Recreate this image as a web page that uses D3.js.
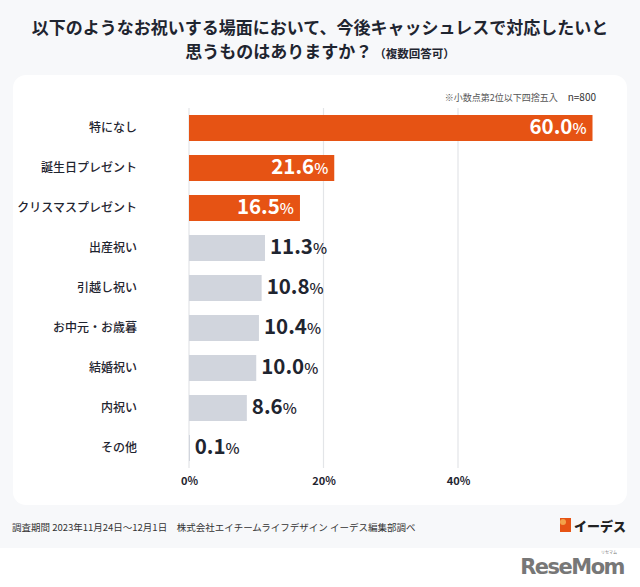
<!DOCTYPE html>
<html><head><meta charset="utf-8">
<script src="https://cdn.jsdelivr.net/npm/d3@7"></script>
<style>
html,body{margin:0;padding:0;background:#fff;}
svg{display:block;font-family:"Noto Sans CJK JP","Noto Sans",sans-serif;}
</style></head>
<body>
<svg id="c" width="640" height="587"></svg>
<script>
const categories = ["特になし","誕生日プレゼント","クリスマスプレゼント","出産祝い","引越し祝い","お中元・お歳暮","結婚祝い","内祝い","その他"];
const values = [60.0, 21.6, 16.5, 11.3, 10.8, 10.4, 10.0, 8.6, 0.1];
const highlighted = [true, true, true, false, false, false, false, false, false];
const tickValues = [0, 20, 40];

const svg = d3.select("#c");
// background
svg.append("rect").attr("x",0).attr("y",0).attr("width",640).attr("height",548).attr("fill","#f7f8fa");
// card
svg.append("rect").attr("x",13).attr("y",75).attr("width",614).attr("height",430).attr("rx",13).attr("fill","#ffffff");

// title
svg.append("text").attr("x",320).attr("y",34).attr("text-anchor","middle").attr("fill","#1f2530")
  .attr("font-weight","700").attr("font-size",17)
  .text("以下のようなお祝いする場面において、今後キャッシュレスで対応したいと");
const t2 = svg.append("text").attr("x",320).attr("y",58).attr("text-anchor","middle").attr("fill","#1f2530").attr("font-weight","700");
t2.append("tspan").attr("font-size",17).text("思うものはありますか？");
t2.append("tspan").attr("font-size",11.5).attr("dx",2).text("（複数回答可）");

// note
const note = svg.append("text").attr("x",596).attr("y",101).attr("text-anchor","end").attr("fill","#333");
note.append("tspan").attr("font-size",9).attr("fill","#555").text("※小数点第2位以下四捨五入");
note.append("tspan").attr("font-size",10).attr("dx",10).text("n=800");

const x = d3.scaleLinear().domain([0,60]).range([189,592.5]);
const y = d3.scaleBand().domain(categories).range([108,468]).paddingInner(0.35).paddingOuter(0.175);

// gridlines
svg.append("g").selectAll("line").data(tickValues).join("line")
  .attr("x1",d=>x(d)).attr("x2",d=>x(d)).attr("y1",108).attr("y2",468)
  .attr("stroke","#e3e5e8").attr("stroke-width",1.2);

// axis tick labels
const axis = d3.axisBottom(x).tickValues(tickValues).tickFormat(d=>d+"%").tickSize(0);
const ag = svg.append("g").attr("transform","translate(0,474)").call(axis);
ag.select(".domain").remove();
ag.selectAll("text").attr("font-size",11).attr("font-weight","700").attr("fill","#1f2530")
  .attr("font-family","\"Noto Sans CJK JP\",sans-serif");

// category labels
svg.append("g").selectAll("text").data(categories).join("text")
  .attr("x",137).attr("y",d=>y(d)+y.bandwidth()/2).attr("dy","0.35em")
  .attr("text-anchor","end").attr("font-size",12).attr("font-weight","500").attr("fill","#1f2530")
  .text(d=>d);

// bars
const rows = categories.map((c,i)=>({c, v:values[i], h:highlighted[i]}));
svg.append("g").selectAll("rect").data(rows).join("rect")
  .attr("x",x(0)).attr("y",d=>y(d.c)).attr("width",d=>Math.max(1,x(d.v)-x(0))).attr("height",y.bandwidth())
  .attr("fill",d=>d.h?"#e65314":"#d1d5dd");

// value labels
const vl = svg.append("g").selectAll("text").data(rows).join("text")
  .attr("x",d=>d.h ? x(d.v)-6 : x(d.v)+5)
  .attr("y",d=>y(d.c)+y.bandwidth()/2).attr("dy","0.37em")
  .attr("text-anchor",d=>d.h?"end":"start")
  .attr("fill",d=>d.h?"#ffffff":"#1f2530")
  .attr("font-weight","700");
vl.append("tspan").attr("font-size",20.5).text(d=>d.v.toFixed(1));
vl.append("tspan").attr("font-size",15).attr("font-weight","500").text("%");

// footer
svg.append("text").attr("x",12).attr("y",531).attr("font-size",9.5).attr("fill","#333")
  .text("調査期間 2023年11月24日〜12月1日　株式会社エイチームライフデザイン イーデス編集部調べ");
// brand mark
const bm = svg.append("g").attr("transform","translate(560,518)");
bm.append("rect").attr("x",0).attr("y",0).attr("width",11).attr("height",14).attr("fill","#e65314");
bm.append("circle").attr("cx",3).attr("cy",4).attr("r",3).attr("fill","#f2a24a");
svg.append("text").attr("x",574).attr("y",531).attr("font-size",13).attr("font-weight","900").attr("fill","#222").text("イーデス");
// ReseMom logo
svg.append("text").attr("x",624).attr("y",574).attr("text-anchor","end").attr("font-size",21).attr("font-weight","900")
  .attr("fill","#777").attr("font-family","\"DejaVu Sans\",sans-serif").attr("letter-spacing","-1.5").text("ReseMom");
svg.append("text").attr("x",609).attr("y",554).attr("text-anchor","middle").attr("font-size",4).attr("fill","#777").text("リセマム");
</script>
</body></html>
